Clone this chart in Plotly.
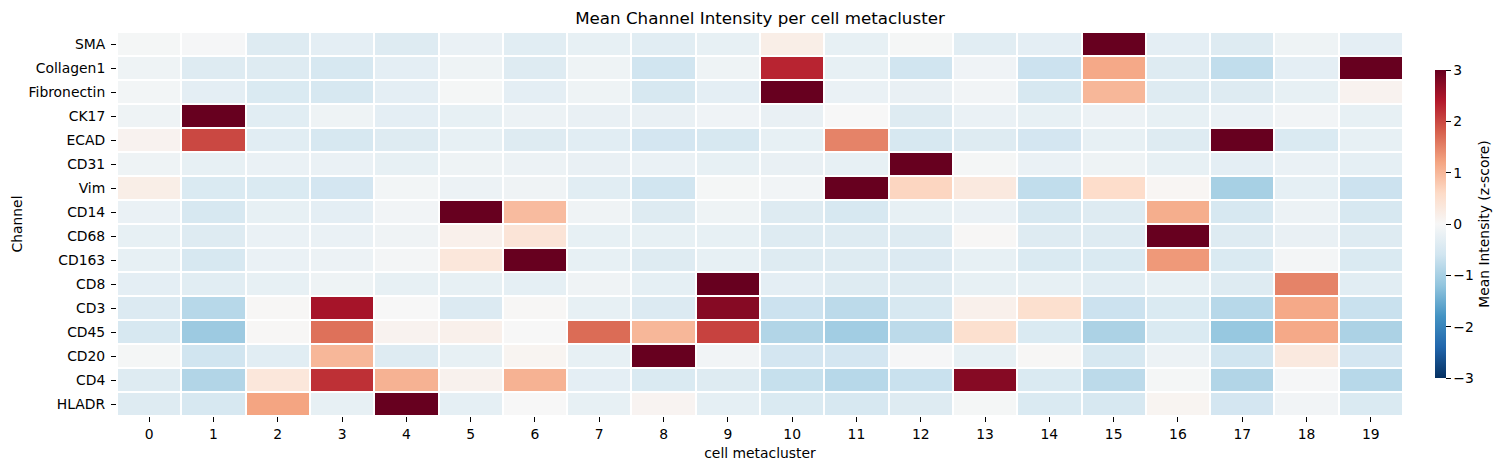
import plotly.graph_objects as go

channels = ["SMA", "Collagen1", "Fibronectin", "CK17", "ECAD", "CD31", "Vim", "CD14",
            "CD68", "CD163", "CD8", "CD3", "CD45", "CD20", "CD4", "HLADR"]
clusters = list(range(20))

sma =         [-0.05, -0.03, -0.40, -0.30, -0.40, -0.20, -0.35, -0.25, -0.35, -0.25, 0.20, -0.25, -0.05, -0.35, -0.30, 3.5, -0.30, -0.40, -0.15, -0.30]
collagen1 =   [-0.15, -0.40, -0.40, -0.50, -0.30, -0.15, -0.40, -0.15, -0.60, -0.15, 2.30, -0.25, -0.60, -0.12, -0.65, 1.15, -0.40, -0.75, -0.30, 3.5]
fibronectin = [-0.08, -0.30, -0.45, -0.50, -0.30, -0.05, -0.30, -0.15, -0.50, -0.30, 3.5, -0.20, -0.22, -0.10, -0.50, 1.00, -0.40, -0.40, -0.25, 0.10]
ck17 =        [-0.15, 3.5, -0.35, -0.15, -0.30, -0.25, -0.17, -0.22, -0.22, -0.12, -0.22, 0.00, -0.40, -0.20, -0.25, -0.17, -0.25, -0.20, -0.10, -0.25]
ecad =        [0.10, 2.00, -0.35, -0.50, -0.40, -0.25, -0.40, -0.35, -0.55, -0.50, -0.25, 1.50, -0.50, -0.40, -0.55, -0.25, -0.40, 3.5, -0.45, -0.25]
cd31 =        [-0.15, -0.25, -0.20, -0.20, -0.25, -0.15, -0.18, -0.22, -0.20, -0.25, -0.22, -0.25, 3.5, -0.05, -0.20, -0.15, -0.25, -0.30, -0.20, -0.28]
vim =         [0.20, -0.45, -0.45, -0.55, -0.08, -0.17, -0.13, -0.35, -0.60, -0.05, -0.10, 3.5, 0.65, 0.30, -0.75, 0.55, 0.05, -1.00, -0.28, -0.65]
cd14 =        [-0.20, -0.50, -0.25, -0.30, -0.10, 3.5, 0.95, -0.13, -0.40, -0.15, -0.40, -0.50, -0.25, -0.20, -0.50, -0.40, 1.10, -0.50, -0.18, -0.50]
cd68 =        [-0.25, -0.40, -0.20, -0.20, -0.13, 0.15, 0.40, -0.25, -0.25, -0.25, -0.40, -0.40, -0.40, 0.03, -0.40, -0.40, 3.5, -0.40, -0.22, -0.40]
cd163 =       [-0.25, -0.50, -0.20, -0.17, -0.07, 0.35, 3.5, -0.25, -0.40, -0.25, -0.40, -0.40, -0.42, -0.25, -0.45, -0.45, 1.30, -0.45, -0.07, -0.45]
cd8 =         [-0.30, -0.35, -0.25, -0.15, -0.25, -0.25, -0.28, -0.13, -0.28, 3.5, -0.30, -0.40, -0.40, -0.25, -0.25, -0.35, -0.25, -0.40, 1.50, -0.35]
cd3 =         [-0.42, -0.85, 0.03, 2.50, 0.00, -0.42, 0.02, -0.25, -0.42, 2.75, -0.65, -0.80, -0.50, 0.15, 0.50, -0.65, -0.45, -0.85, 1.15, -0.68]
cd45 =        [-0.50, -1.10, 0.03, 1.65, 0.10, 0.15, 0.00, 1.70, 1.00, 2.05, -0.90, -1.05, -0.80, 0.50, -0.45, -0.95, -0.45, -1.15, 1.15, -0.95]
cd20 =        [-0.05, -0.60, -0.35, 1.00, -0.40, -0.25, 0.07, -0.25, 3.5, -0.10, -0.55, -0.55, -0.03, -0.25, 0.03, -0.50, -0.18, -0.60, 0.30, -0.55]
cd4 =         [-0.40, -0.90, 0.35, 2.20, 1.05, 0.13, 1.05, -0.30, -0.45, -0.40, -0.70, -0.85, -0.68, 2.75, -0.45, -0.80, -0.05, -0.90, -0.03, -0.85]
hladr =       [-0.40, -0.50, 1.20, -0.25, 3.5, -0.28, 0.00, -0.25, 0.08, -0.28, -0.45, -0.50, -0.40, -0.05, -0.45, -0.50, 0.07, -0.55, -0.10, -0.45]

z = [sma, collagen1, fibronectin, ck17, ecad, cd31, vim, cd14, cd68, cd163, cd8, cd3, cd45, cd20, cd4, hladr]

rdbu_r = [
    [0.0, "#053061"], [0.1, "#2166ac"], [0.2, "#4393c3"], [0.3, "#92c5de"],
    [0.4, "#d1e5f0"], [0.5, "#f7f7f7"], [0.6, "#fddbc7"], [0.7, "#f4a582"],
    [0.8, "#d6604d"], [0.9, "#b2182b"], [1.0, "#67001f"],
]

font = "DejaVu Sans"
fs = 13.9

fig = go.Figure(go.Heatmap(
    z=z, x=clusters, y=channels,
    colorscale=rdbu_r, zmin=-3, zmax=3,
    xgap=2, ygap=2,
    colorbar=dict(
        thickness=11, len=308, lenmode="pixels",
        x=1.025, xanchor="left", xpad=0, y=0.5, yanchor="middle", ypad=0,
        outlinewidth=0,
        tickvals=[-3, -2, -1, 0, 1, 2, 3],
        ticktext=["\u22123", "\u22122", "\u22121", "0", "1", "2", "3"],
        ticks="outside", ticklen=5, tickcolor="#000",
        tickfont=dict(family=font, size=fs, color="#000"),
        title=dict(text="Mean Intensity (z-score)", side="right",
                   font=dict(family=font, size=fs, color="#000")),
    ),
))

fig.update_layout(
    width=1504, height=471,
    margin=dict(l=117, r=101, t=32, b=55),
    paper_bgcolor="white", plot_bgcolor="white",
    title=dict(text="Mean Channel Intensity per cell metacluster",
               x=(117 + 1403) / 2 / 1504, xanchor="center", y=1 - 18 / 471, yanchor="middle",
               font=dict(family=font, size=16.7, color="#000")),
    font=dict(family=font, color="#000"),
)
fig.update_xaxes(
    tickvals=clusters, ticktext=[str(c) for c in clusters],
    range=[-0.5, 19.5], showgrid=False, zeroline=False, showline=False,
    ticks="outside", ticklen=5, tickcolor="#000",
    tickfont=dict(family=font, size=fs, color="#000"),
    title=dict(text="cell metacluster", standoff=7, font=dict(family=font, size=fs, color="#000")),
)
fig.update_yaxes(
    autorange="reversed", showgrid=False, zeroline=False, showline=False,
    ticks="outside", ticklen=5, tickcolor="#000", ticklabelstandoff=3,
    tickfont=dict(family=font, size=fs, color="#000"),
    title=dict(text="Channel", standoff=2, font=dict(family=font, size=fs, color="#000")),
)

fig.write_html("out.html")
